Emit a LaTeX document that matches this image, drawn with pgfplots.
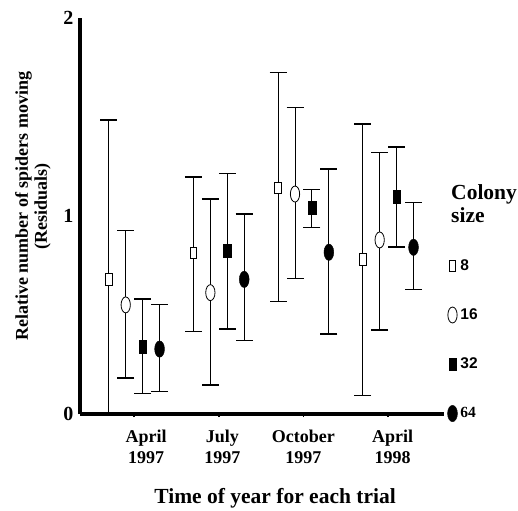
\documentclass[border=0pt]{standalone}
\usepackage{pgfplots}
\pgfplotsset{compat=1.18}
\usepackage{fontspec}
\setmainfont{Liberation Serif}
\newfontfamily\legfont{Liberation Sans}
\begin{document}
\begin{tikzpicture}
\path[use as bounding box] (0pt,0pt) rectangle (518pt,-510pt);
\begin{axis}[
    at={(80pt,-414pt)}, anchor=south west,
    scale only axis, width=364pt, height=396pt,
    xmin=0.36, xmax=4.66, ymin=0, ymax=2,
    clip=false,
    axis x line*=bottom, axis y line*=left,
    x axis line style={line width=4.5pt, -},
    y axis line style={line width=3.5pt, -},
    xtick={1,2,3,4},
    xticklabels={{\hspace*{24pt}April\\\hspace*{24pt}1997},
                 {\hspace*{7pt}July\\\hspace*{7pt}1997},
                 {October\\1997},
                 {\hspace*{9pt}April\\\hspace*{9pt}1998}},
    xticklabel style={align=center, font=\bfseries\fontsize{18}{21}\selectfont, yshift=-9pt},
    ytick={0,1,2},
    yticklabel style={font=\bfseries\fontsize{20}{20}\selectfont,
        /pgf/number format/assume math mode=true},
    tick align=outside, major tick length=3pt,
    xtick style={line width=1.5pt, black},
    ytick style={draw=none},
    xlabel={Time of year for each trial},
    xlabel style={font=\bfseries\fontsize{21.5}{24}\selectfont,
        at={(axis description cs:0.536,-0.212)}, anchor=center},
    ylabel={Relative number of spiders moving\\(Residuals)},
    ylabel style={align=center, font=\bfseries\fontsize{18}{19}\selectfont,
        at={(axis description cs:-0.129,0.525)}, anchor=center},
    legend style={at={(axis cs:4.70,-0.04)}, anchor=south west, draw=none, fill=none,
        inner sep=0pt, row sep=34pt, column sep=2pt,
        nodes={inner sep=1pt, anchor=west},
        font=\legfont\bfseries\fontsize{15.5}{17}\selectfont},
    legend cell align=left,
    legend image code/.code={\draw[#1] plot coordinates {(0pt,0pt)};},
    error bars/y dir=both, error bars/y explicit,
    error bars/error bar style={line width=0.9pt, black},
    error bars/error mark=|,
    error bars/error mark options={line width=1.2pt, mark size=8.5pt, black, xscale=1, yscale=1},
]

% colony size 8
\addplot[only marks, mark=square*, mark size=5.6pt,
    mark options={xscale=0.6, fill=white, draw=black, line width=0.8pt}]
    coordinates {
    (0.7,0.680) += (0,0.805) -= (0,0.680)
    (1.7,0.813) += (0,0.384) -= (0,0.395)
    (2.7,1.143) += (0,0.581) -= (0,0.576)
    (3.7,0.781) += (0,0.684) -= (0,0.689)
    };
\addlegendentry{8}

% colony size 16
\addplot[only marks, mark=*, mark size=8pt,
    mark options={xscale=0.58, fill=white, draw=black, line width=0.8pt}]
    coordinates {
    (0.9,0.551) += (0,0.375) -= (0,0.369)
    (1.9,0.613) += (0,0.473) -= (0,0.467)
    (2.9,1.111) += (0,0.436) -= (0,0.426)
    (3.9,0.879) += (0,0.443) -= (0,0.455)
    };
\addlegendentry{16}

% colony size 32
\addplot[only marks, mark=square*, mark size=6.3pt,
    mark options={xscale=0.6, fill=black, draw=black}]
    coordinates {
    (1.1,0.340) += (0,0.241) -= (0,0.235)
    (2.1,0.826) += (0,0.390) -= (0,0.397)
    (3.1,1.042) += (0,0.091) -= (0,0.101)
    (4.1,1.097) += (0,0.251) -= (0,0.254)
    };
\addlegendentry{32}

% colony size 64
\addplot[only marks, mark=*, mark size=8.2pt,
    mark options={xscale=0.6, fill=black, draw=black}]
    coordinates {
    (1.3,0.328) += (0,0.226) -= (0,0.215)
    (2.3,0.680) += (0,0.330) -= (0,0.310)
    (3.3,0.817) += (0,0.420) -= (0,0.413)
    (4.3,0.842) += (0,0.225) -= (0,0.212)
    };
\addlegendentry{\rmfamily 64}

\node[anchor=north west, inner sep=0pt, align=left,
    font=\bfseries\fontsize{21.5}{23}\selectfont]
    at (axis cs:4.743,1.162) {Colony\\size};
\end{axis}
\end{tikzpicture}
\end{document}
